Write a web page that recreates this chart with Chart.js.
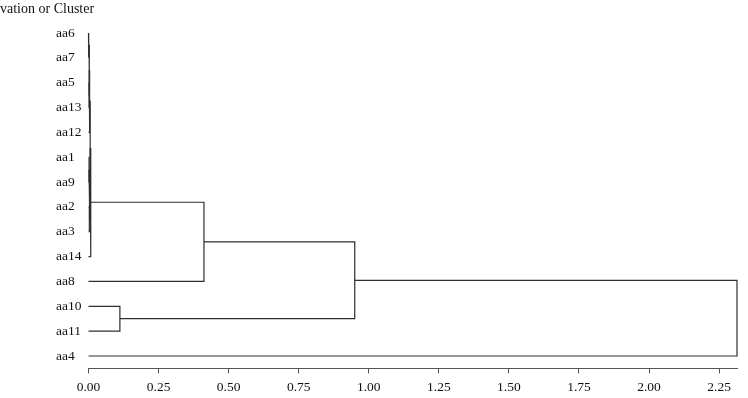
<!DOCTYPE html>
<html>
<head>
<meta charset="utf-8">
<script src="https://cdn.jsdelivr.net/npm/chart.js@4.4.1/dist/chart.umd.min.js"></script>
<style>
  html, body { margin: 0; padding: 0; background: #ffffff; }
  #wrap { width: 748px; height: 398px; position: relative; }
</style>
</head>
<body>
<div id="wrap"><canvas id="c" width="748" height="398"></canvas></div>
<script>
// Leaf order (top to bottom)
const leaves = ['aa6','aa7','aa5','aa13','aa12','aa1','aa9','aa2','aa3','aa14','aa8','aa10','aa11','aa4'];
// Merge steps: left child, right child, merge distance
const mergeLeft   = ['aa6','aa5','n1','n3','aa1','aa2','n5','n4','n8','aa10','n9','n11','n12'];
const mergeRight  = ['aa7','aa13','n2','aa12','aa9','aa3','n6','n7','aa14','aa11','aa8','n10','aa4'];
const mergeHeight = [0.001,0.002,0.003,0.004,0.002,0.003,0.005,0.006,0.008,0.112,0.412,0.950,2.314];
// X tick labels
const xTickValues = [0,0.25,0.5,0.75,1.0,1.25,1.5,1.75,2.0,2.25];
const axisTitle = 'vation or Cluster';

const pos = {};
leaves.forEach((l, i) => { pos[l] = { x: 0, y: i }; });
const datasets = [];
mergeHeight.forEach((h, k) => {
  const a = pos[mergeLeft[k]], b = pos[mergeRight[k]];
  datasets.push({
    data: [{x: a.x, y: a.y}, {x: h, y: a.y}, {x: h, y: b.y}, {x: b.x, y: b.y}],
    showLine: true, borderColor: '#2e2e2e', borderWidth: 1.2,
    pointRadius: 0, tension: 0, fill: false, clip: false
  });
  pos['n' + (k + 1)] = { x: h, y: (a.y + b.y) / 2 };
});

const serif = '"Liberation Serif", "Times New Roman", serif';
const titlePlugin = {
  id: 'titleText',
  afterDraw(chart) {
    const ctx = chart.ctx;
    ctx.save();
    ctx.font = '14px ' + serif;
    ctx.fillStyle = '#111';
    ctx.textBaseline = 'alphabetic';
    ctx.textAlign = 'left';
    ctx.fillText(axisTitle, 0, 13);
    ctx.restore();
  }
};

new Chart(document.getElementById('c'), {
  type: 'scatter',
  data: { datasets },
  plugins: [titlePlugin],
  options: {
    responsive: false,
    animation: false,
    layout: { padding: { left: 56, right: 11, top: 20.6, bottom: 0 } },
    plugins: { legend: { display: false }, tooltip: { enabled: false } },
    scales: {
      x: {
        type: 'linear', min: 0, max: 2.314,
        afterBuildTicks: (s) => { s.ticks = xTickValues.map(v => ({ value: v })); },
        afterFit: (s) => { s.height = 29.6; },
        grid: { display: true, drawOnChartArea: false, drawTicks: true, tickLength: 5, color: '#555' },
        border: { display: true, color: '#555', width: 1 },
        ticks: { autoSkip: false, maxRotation: 0, padding: 6, color: '#111',
                 font: { family: serif, size: 13.5 },
                 callback: (v) => Number(v).toFixed(2) }
      },
      y: {
        type: 'linear', reverse: true, min: -0.5, max: 13.5,
        afterBuildTicks: (s) => { s.ticks = leaves.map((_, i) => ({ value: i })); },
        afterFit: (s) => { s.width = 32.5; },
        grid: { display: false, drawTicks: false },
        border: { display: false },
        ticks: { autoSkip: false, padding: 0, crossAlign: 'far', color: '#111',
                 font: { family: serif, size: 13.5 },
                 callback: (v) => leaves[v] }
      }
    }
  }
});
</script>
</body>
</html>
